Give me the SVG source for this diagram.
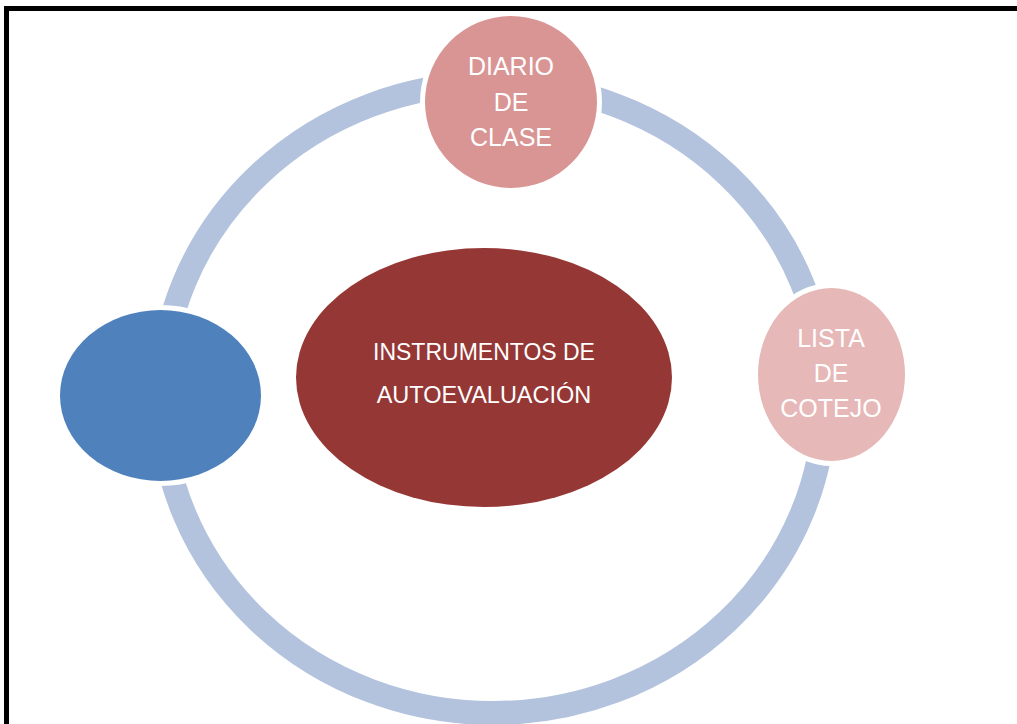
<svg xmlns="http://www.w3.org/2000/svg" width="1017" height="724" viewBox="0 0 1017 724">
<style>
.lbl{font-family:"Liberation Sans",Arial,sans-serif;fill:#ffffff;text-anchor:middle}
.node{stroke:#ffffff;stroke-width:10;paint-order:stroke}
</style>
<rect x="0" y="0" width="1017" height="724" fill="#ffffff"/>
<rect x="6.5" y="8.5" width="1030" height="740" fill="none" stroke="#000000" stroke-width="5"/>
<g id="connectors">
<ellipse cx="493" cy="398" rx="332" ry="315" fill="none" stroke="#B3C3DE" stroke-width="24"/>
</g>
<g id="node-diario">
<circle class="node" cx="511" cy="102" r="86" fill="#D99594"/>
<text class="lbl" x="511" y="75" font-size="25">DIARIO</text>
<text class="lbl" x="511" y="111" font-size="25">DE</text>
<text class="lbl" x="511" y="146" font-size="25">CLASE</text>
</g>
<g id="node-lista">
<ellipse class="node" cx="831.5" cy="374.5" rx="73.5" ry="86.5" fill="#E6B8B7"/>
<text class="lbl" x="831" y="347" font-size="25">LISTA</text>
<text class="lbl" x="831" y="382" font-size="25">DE</text>
<text class="lbl" x="831" y="417" font-size="25">COTEJO</text>
</g>
<g id="node-blue">
<ellipse class="node" cx="160.5" cy="395.5" rx="100.5" ry="85.5" fill="#4F81BD"/>
</g>
<g id="node-center">
<ellipse cx="484" cy="377.5" rx="188" ry="129.5" fill="#953735"/>
<text class="lbl" x="484" y="360" font-size="23">INSTRUMENTOS DE</text>
<text class="lbl" x="484" y="403" font-size="23.5">AUTOEVALUACIÓN</text>
</g>
</svg>
